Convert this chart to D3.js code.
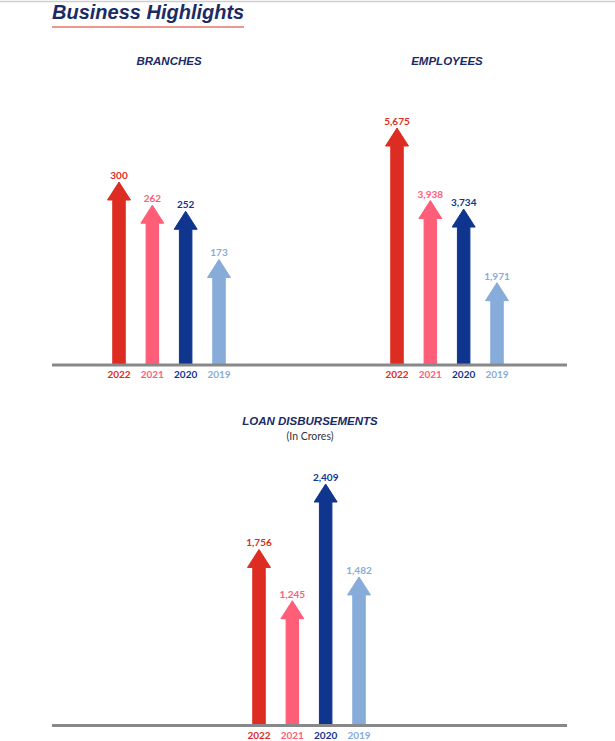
<!DOCTYPE html>
<head>
  <meta charset="utf-8">
  <script src="https://d3js.org/d3.v7.min.js"></script>
  <style>
    body { margin:0; background:#fff; }
    .ttl { font-family: "Liberation Sans", Arial, sans-serif; font-weight:bold; font-style:italic; fill:#1b2b66; }
    .val { font-family: Lato, sans-serif; font-size:10px; font-weight:bold; text-anchor:middle; }
    .yr  { font-family: Lato, sans-serif; font-size:10px; font-weight:bold; text-anchor:middle; }
  </style>
</head>
<body>
<script>
  // data
  var years = ["2022", "2021", "2020", "2019"];
  var branches = [300, 262, 252, 173];
  var employees = [5675, 3938, 3734, 1971];
  var loans = [1756, 1245, 2409, 1482];
  var yearColors = ["#dd2c22", "#ff5e78", "#10358e", "#87acda"];

  var W = 615, H = 741;
  var svg = d3.select("body").append("svg")
      .attr("width", W)
      .attr("height", H);

  // top border line
  svg.append("line")
    .attr("x1", 0).attr("x2", W)
    .attr("y1", 1.5).attr("y2", 1.5)
    .attr("stroke", "#cfcfcf")
    .attr("stroke-width", 1.5);

  // page title
  svg.append("text")
    .attr("class", "ttl")
    .attr("x", 52).attr("y", 19)
    .style("font-size", "20px")
    .text("Business Highlights");
  svg.append("line")
    .attr("x1", 52).attr("x2", 244)
    .attr("y1", 27).attr("y2", 27)
    .attr("stroke", "#e8736b")
    .attr("stroke-width", 1.5);

  var fmt = d3.format(",");
  var shaftW = 12.5, headW = 23, headH = 18;

  function arrowPath(x, yTip, yBase) {
    var yNeck = yTip + headH;
    return "M" + (x - shaftW / 2) + "," + yBase +
      "L" + (x - shaftW / 2) + "," + yNeck +
      "L" + (x - headW / 2) + "," + yNeck +
      "L" + x + "," + yTip +
      "L" + (x + headW / 2) + "," + yNeck +
      "L" + (x + shaftW / 2) + "," + yNeck +
      "L" + (x + shaftW / 2) + "," + yBase + "Z";
  }

  // one arrow panel
  function panel(values, cx, base, top) {
    var x = d3.scalePoint()
        .domain(years)
        .range([cx - 50, cx + 50]);
    var y = d3.scaleLinear()
        .domain([0, d3.max(values)])
        .range([base, top]);

    var rows = years.map(function(yr, i) { return {year: yr, v: values[i], c: yearColors[i]}; });
    var g = svg.append("g");

    g.selectAll("path.arrow").data(rows).enter().append("path")
      .attr("class", "arrow")
      .attr("d", function(d) { return arrowPath(x(d.year), y(d.v), y(0)); })
      .attr("fill", function(d) { return d.c; })
      .attr("stroke", function(d) { return d.c; })
      .attr("stroke-width", 1)
      .attr("stroke-linejoin", "round");

    g.selectAll("text.val").data(rows).enter().append("text")
      .attr("class", "val")
      .attr("x", function(d) { return x(d.year); })
      .attr("y", function(d) { return y(d.v) - 3; })
      .attr("fill", function(d) { return d.c; })
      .text(function(d) { return fmt(d.v); });

    g.selectAll("text.yr").data(rows).enter().append("text")
      .attr("class", "yr")
      .attr("x", function(d) { return x(d.year); })
      .attr("y", y(0) + 13)
      .attr("fill", function(d) { return d.c; })
      .text(function(d) { return d.year; });
  }

  panel(branches, 169, 365, 182);
  panel(employees, 447, 365, 128);
  panel(loans, 309, 725.5, 484);

  // baselines on top of arrow feet
  [365, 725.5].forEach(function(by) {
    svg.append("line")
      .attr("x1", 52).attr("x2", 567)
      .attr("y1", by).attr("y2", by)
      .attr("stroke", "#88888a")
      .attr("stroke-width", 3);
  });

  // panel headings
  svg.append("text").attr("class", "ttl")
    .attr("x", 169).attr("y", 65).attr("text-anchor", "middle")
    .style("font-size", "11.5px").text("BRANCHES");
  svg.append("text").attr("class", "ttl")
    .attr("x", 447).attr("y", 65).attr("text-anchor", "middle")
    .style("font-size", "11.5px").text("EMPLOYEES");
  svg.append("text").attr("class", "ttl")
    .attr("x", 310).attr("y", 425).attr("text-anchor", "middle")
    .style("font-size", "11.5px").text("LOAN DISBURSEMENTS");
  svg.append("text")
    .attr("x", 310).attr("y", 440).attr("text-anchor", "middle")
    .style("font-family", "Lato, sans-serif").style("font-size", "10.5px")
    .attr("fill", "#333")
    .text("(In Crores)");
</script>
</body>
